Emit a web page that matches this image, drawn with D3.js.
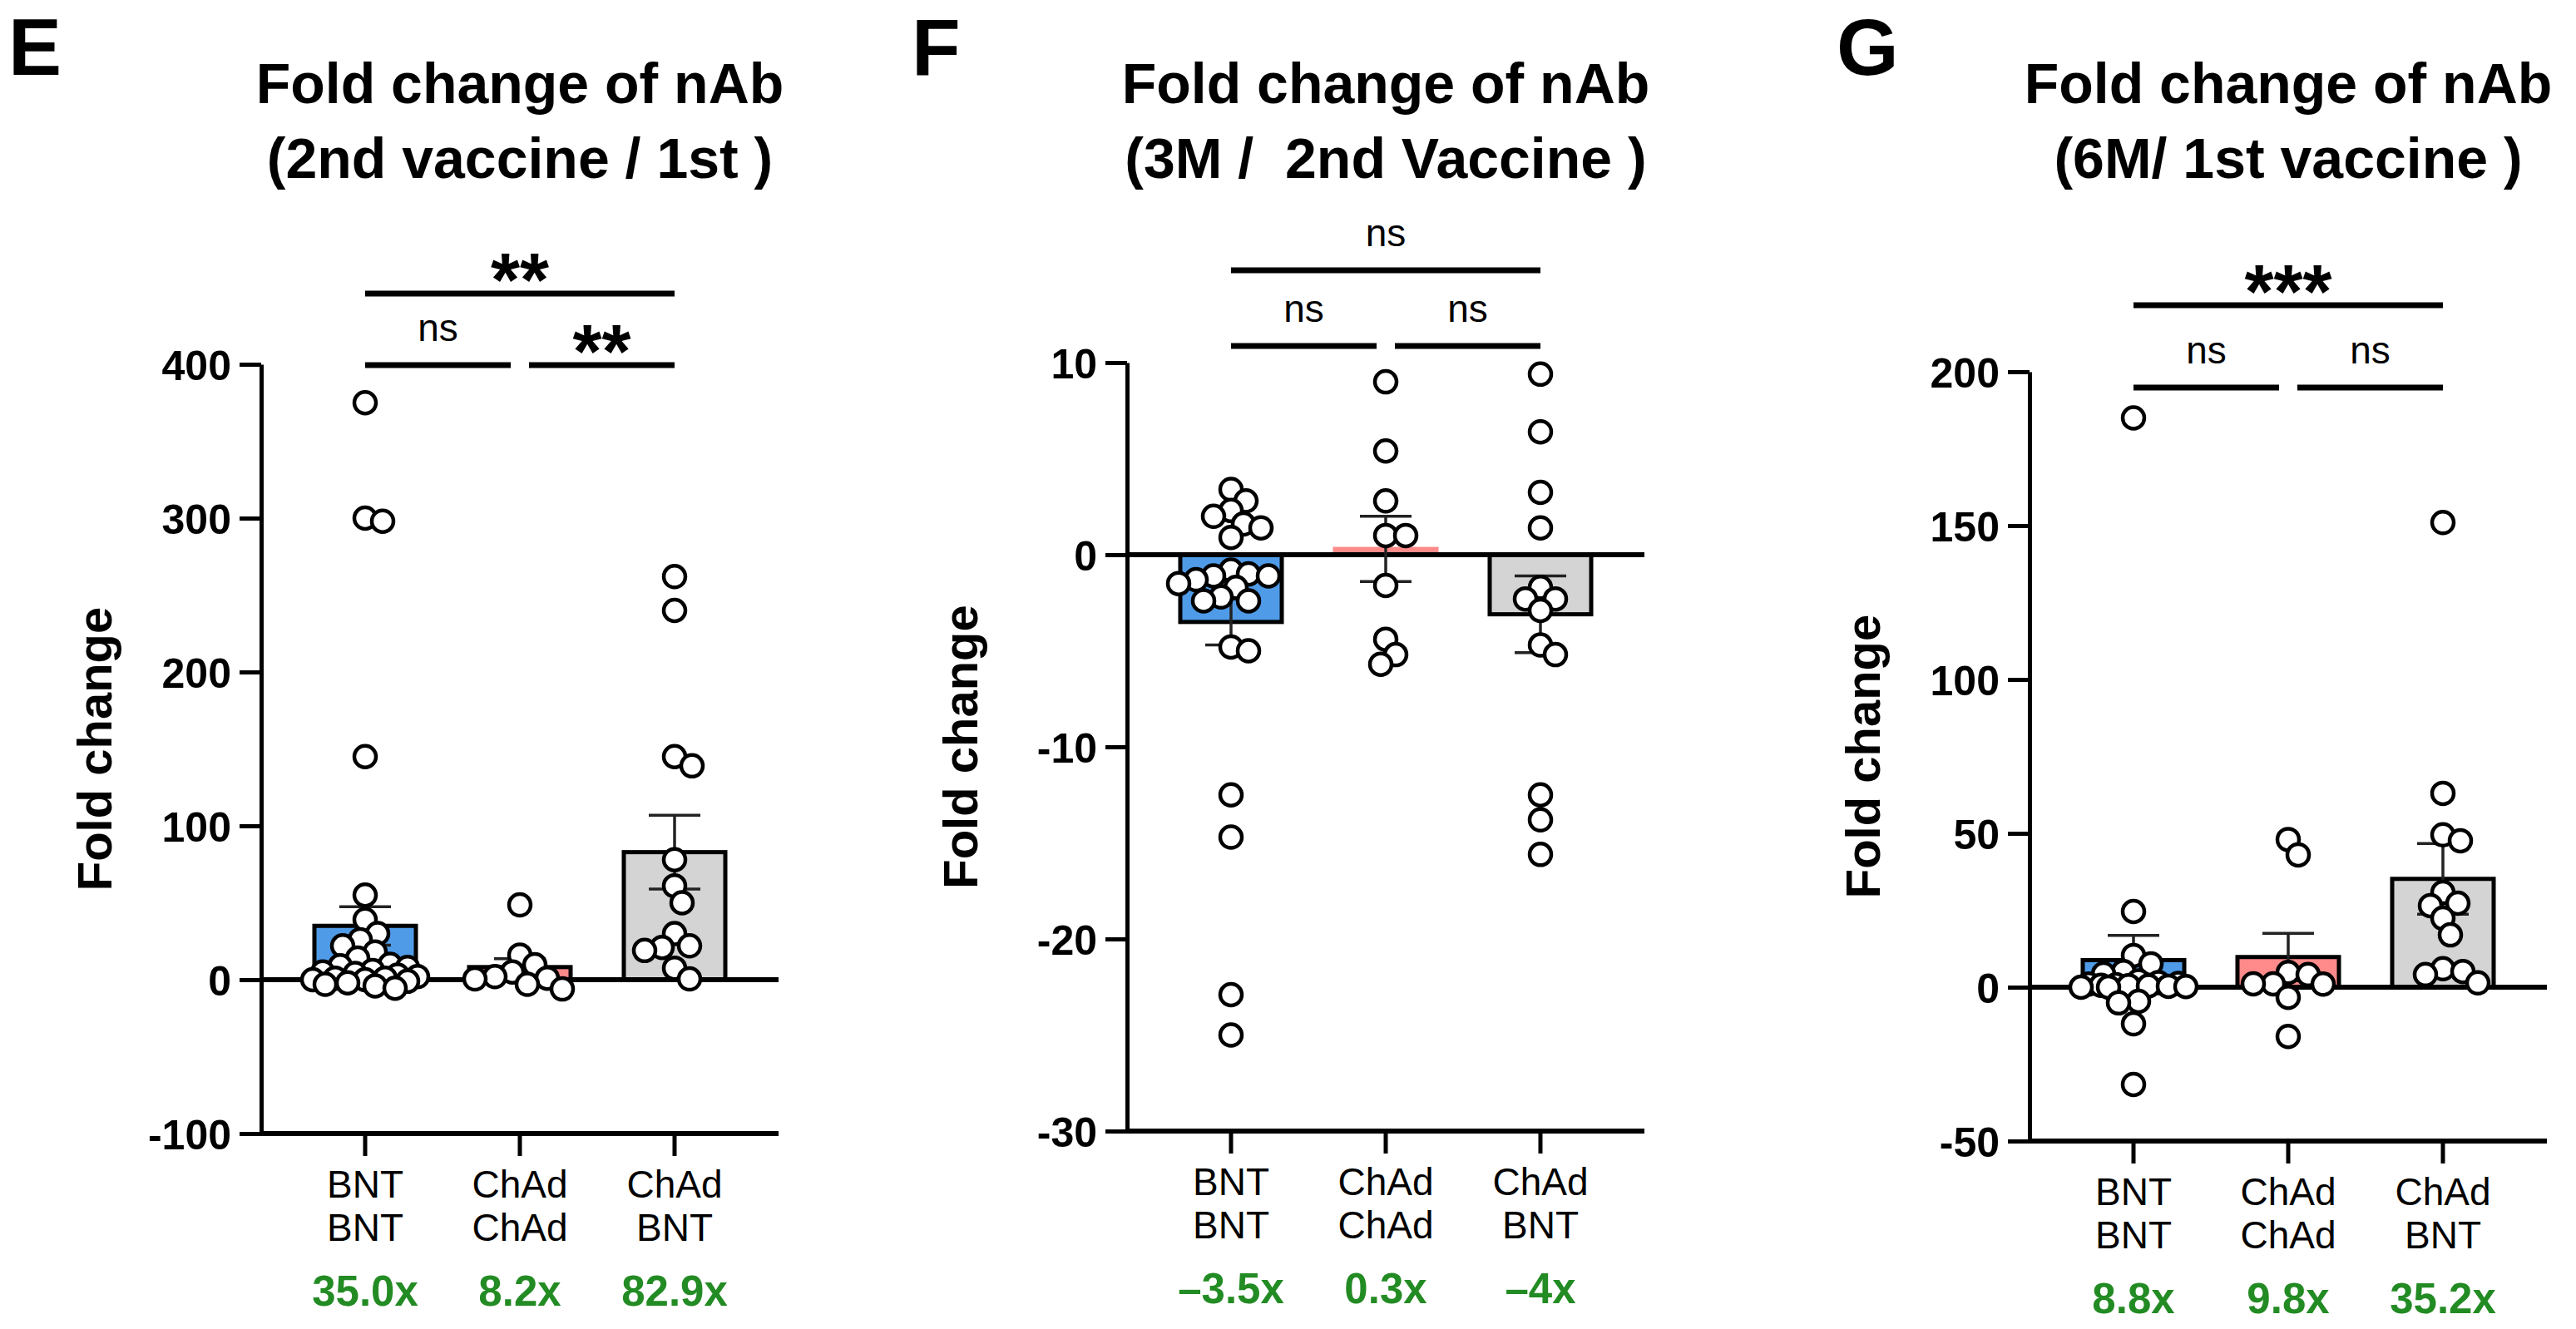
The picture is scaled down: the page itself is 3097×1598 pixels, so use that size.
<!DOCTYPE html>
<html>
<head>
<meta charset="utf-8">
<script src="https://cdn.jsdelivr.net/npm/d3@7"></script>
<style>
  body { margin: 0; background: #fff; }
  text { font-family: "Liberation Sans", Arial, Helvetica, sans-serif; }
</style>
</head>
<body>
<script>
const W = 3097, H = 1598;

// ---- data ----
const catTop = ["BNT", "ChAd", "ChAd"];
const catBottom = ["BNT", "ChAd", "BNT"];
const barColors = ["#4f9be8", "#ff8a8a", "#d4d4d4"];

const letters = ["E", "F", "G"];
const titleLine1 = ["Fold change of nAb", "Fold change of nAb", "Fold change of nAb"];
const titleLine2 = ["(2nd vaccine / 1st )", "(3M /  2nd Vaccine )", "(6M/ 1st vaccine )"];

const ticksE = [-100, 0, 100, 200, 300, 400];
const ticksF = [-30, -20, -10, 0, 10];
const ticksG = [-50, 0, 50, 100, 150, 200];

const meansE = [35.0, 8.2, 82.9];
const semE = [12.5, 5.5, 24];
const meansF = [-3.5, 0.3, -3.1];
const semF = [1.2, 1.7, 2.0];
const meansG = [8.8, 9.8, 35.2];
const semG = [8, 7.7, 11.5];

const pointsE = [
  [375, 300, 298, 145, 55, 39, 30, 26, 22, 18, 14, 10, 9, 8, 6, 5, 4, 3, 2, 1, 1, 0, 0, -1, -2, -3, -4, -5.5],
  [48.6, 16, 9.7, 5, 2, 1, 0.5, -3, -6],
  [262, 240, 145, 139, 78, 61, 50, 30, 22, 21, 19, 7.5, 0.5]
];
const pointsF = [
  [3.4, 2.8, 2.3, 2.0, 1.6, 1.4, 0.9, -0.8, -1.0, -1.1, -1.1, -1.3, -1.5, -1.7, -2.2, -2.4, -2.4, -4.8, -5.0, -12.5, -14.7, -22.9, -25.0],
  [9.0, 5.4, 2.8, 1.0, 1.0, -1.6, -4.4, -5.2, -5.7],
  [9.4, 6.4, 3.25, 1.4, -1.7, -2.3, -2.3, -2.9, -4.7, -5.2, -12.5, -13.8, -15.6]
];
const pointsG = [
  [185, 24.6, 10.3, 7.6, 5.1, 4.3, 2, 1.5, 1.2, 1, 0.8, 0.6, 0.5, 0.4, 0.3, 0.2, 0, 0, -4.6, -5.1, -11.9, -31.6],
  [48, 43, 4.8, 4.1, 1.1, 1.1, 1.0, -3.3, -16],
  [151, 63, 49.5, 47.6, 30.8, 27.3, 26.5, 22.4, 17, 6, 5.1, 4.1, 1.4]
];

// significance: [cat1 vs cat2, cat2 vs cat3, cat1 vs cat3]
const sigE = ["ns", "**", "**"];
const sigF = ["ns", "ns", "ns"];
const sigG = ["ns", "ns", "***"];

const foldE = ["35.0x", "8.2x", "82.9x"];
const foldF = ["\u20133.5x", "0.3x", "\u20134x"];
const foldG = ["8.8x", "9.8x", "35.2x"];

// ---- layout ----
const panels = [
  { ticks: ticksE, means: meansE, sem: semE, points: pointsE, sig: sigE, fold: foldE,
    axisX: 314, top: 438, bottom: 1363, letterX: 10, brLow: 1, brHigh: -85 },
  { ticks: ticksF, means: meansF, sem: semF, points: pointsF, sig: sigF, fold: foldF,
    axisX: 1355, top: 436, bottom: 1360, letterX: 1096, brLow: -20, brHigh: -111 },
  { ticks: ticksG, means: meansG, sem: semG, points: pointsG, sig: sigG, fold: foldG,
    axisX: 2440, top: 447, bottom: 1372, letterX: 2208, brLow: 19, brHigh: -80 }
];

const R = 13;

const svg = d3.select('body')
  .append('svg')
    .attr('width', W)
    .attr('height', H);
svg.append('rect').attr('width', W).attr('height', H).attr('fill', '#fff');

// simple deterministic swarm: nearest free horizontal slot for each point
function swarm(vals, cx, y, maxOff) {
  const placed = [];
  const D = 2 * R * 0.82;
  vals.forEach(v => {
    const py = y(v);
    let best = cx, bestScore = -1;
    for (let k = 0; k < 200; k++) {
      const off = (k % 2 ? 1 : -1) * Math.ceil(k / 2) * 3;
      if (Math.abs(off) > maxOff) break;
      const px = cx + off;
      let dmin = Infinity;
      placed.forEach(p => { dmin = Math.min(dmin, Math.hypot(p.x - px, p.y - py)); });
      if (dmin >= D) { best = px; break; }
      if (dmin > bestScore) { bestScore = dmin; best = px; }
    }
    placed.push({ x: best, y: py, v: v });
  });
  return placed;
}

panels.forEach((p, pi) => {
  const g = svg.append('g');
  const ext = d3.extent(p.ticks);
  const y = d3.scaleLinear().domain(ext).range([p.bottom, p.top]);
  const x = d3.scaleBand()
    .domain(d3.range(3))
    .range([p.axisX + 32, p.axisX + 590])
    .paddingInner(0.344)
    .paddingOuter(0.172);
  const cx = i => x(i) + x.bandwidth() / 2;
  const xEnd = p.axisX + 622;

  // bars
  g.selectAll('rect.bar')
    .data(p.means)
    .enter()
      .append('rect')
        .attr('class', 'bar')
        .attr('x', (d, i) => x(i))
        .attr('width', x.bandwidth())
        .attr('y', d => Math.min(y(d), y(0)))
        .attr('height', d => Math.abs(y(d) - y(0)))
        .attr('fill', (d, i) => barColors[i])
        .attr('stroke', (d, i) => Math.abs(y(d) - y(0)) < 10 ? barColors[i] : '#000')
        .attr('stroke-width', 5);

  // zero line
  g.append('line')
    .attr('x1', p.axisX).attr('x2', xEnd)
    .attr('y1', y(0)).attr('y2', y(0))
    .attr('stroke', '#000').attr('stroke-width', 6);

  // y axis
  const ya = g.append('g')
    .attr('transform', `translate(${p.axisX},0)`)
    .call(d3.axisLeft(y).tickValues(p.ticks).tickSize(26).tickSizeOuter(0).tickPadding(10).tickFormat(d3.format('d')));
  ya.select('.domain').attr('stroke-width', 5);
  ya.selectAll('.tick line').attr('stroke-width', 5);
  ya.selectAll('.tick text')
    .attr('font-size', 50).attr('font-weight', 'bold').attr('fill', '#000')
    .attr('font-family', '"Liberation Sans", Arial, sans-serif')
    .attr('dy', '0.36em')
    .text(d => d < 0 ? '-' + Math.abs(d) : d);

  // x axis
  const xa = g.append('g')
    .attr('transform', `translate(0,${p.bottom})`)
    .call(d3.axisBottom(x).tickSize(27).tickSizeOuter(0).tickFormat(''));
  xa.select('.domain').remove();
  xa.selectAll('.tick line').attr('stroke-width', 5);
  g.append('line')
    .attr('x1', p.axisX - 2).attr('x2', xEnd)
    .attr('y1', p.bottom).attr('y2', p.bottom)
    .attr('stroke', '#000').attr('stroke-width', 6);

  // category labels + fold labels
  [catTop, catBottom].forEach((arr, li) => {
    g.selectAll('text.cat' + li)
      .data(arr)
      .enter()
        .append('text')
          .attr('x', (d, i) => cx(i))
          .attr('y', p.bottom + 77 + li * 52)
          .attr('text-anchor', 'middle')
          .attr('font-size', 46)
          .text(d => d);
  });
  g.selectAll('text.fold')
    .data(p.fold)
    .enter()
      .append('text')
        .attr('x', (d, i) => cx(i))
        .attr('y', p.bottom + 207)
        .attr('text-anchor', 'middle')
        .attr('font-size', 51)
        .attr('font-weight', 'bold')
        .attr('fill', '#238b23')
        .text(d => d);

  // error bars (SEM)
  const eb = g.selectAll('g.err')
    .data(p.means)
    .enter()
      .append('g');
  eb.append('line')
    .attr('x1', (d, i) => cx(i)).attr('x2', (d, i) => cx(i))
    .attr('y1', (d, i) => y(d - p.sem[i])).attr('y2', (d, i) => y(d + p.sem[i]))
    .attr('stroke', '#222').attr('stroke-width', 3.5);
  [-1, 1].forEach(s => {
    eb.append('line')
      .attr('x1', (d, i) => cx(i) - 31).attr('x2', (d, i) => cx(i) + 31)
      .attr('y1', (d, i) => y(d + s * p.sem[i])).attr('y2', (d, i) => y(d + s * p.sem[i]))
      .attr('stroke', '#222').attr('stroke-width', 3.5);
  });

  // points
  p.points.forEach((vals, i) => {
    const pts = swarm(vals, cx(i), y, x.bandwidth() / 2 + 4);
    g.selectAll('circle.p' + i)
      .data(pts)
      .enter()
        .append('circle')
          .attr('cx', d => d.x)
          .attr('cy', d => d.y)
          .attr('r', R)
          .attr('fill', '#fff')
          .attr('stroke', '#000')
          .attr('stroke-width', 4.5);
  });

  // significance brackets
  const brackets = [
    { a: cx(0), b: cx(1) - 11, yy: p.top + p.brLow, t: p.sig[0] },
    { a: cx(1) + 11, b: cx(2), yy: p.top + p.brLow, t: p.sig[1] },
    { a: cx(0), b: cx(2), yy: p.top + p.brHigh, t: p.sig[2] }
  ];
  brackets.forEach(br => {
    g.append('line')
      .attr('x1', br.a).attr('x2', br.b)
      .attr('y1', br.yy).attr('y2', br.yy)
      .attr('stroke', '#000').attr('stroke-width', 7);
    const star = br.t !== 'ns';
    g.append('text')
      .attr('x', (br.a + br.b) / 2)
      .attr('y', star ? br.yy + 15 : br.yy - 29)
      .attr('text-anchor', 'middle')
      .attr('font-size', star ? 90 : 46)
      .attr('font-weight', star ? 'bold' : 'normal')
      .text(br.t);
  });

  // y title
  g.append('text')
    .attr('transform', `translate(${p.axisX - 180},${(p.top + p.bottom) / 2}) rotate(-90)`)
    .attr('text-anchor', 'middle')
    .attr('font-size', 58)
    .attr('font-weight', 'bold')
    .text('Fold change');

  // title
  g.append('text')
    .attr('x', cx(1)).attr('y', 124)
    .attr('text-anchor', 'middle')
    .attr('font-size', 68).attr('font-weight', 'bold')
    .text(titleLine1[pi]);
  g.append('text')
    .attr('x', cx(1)).attr('y', 214)
    .attr('text-anchor', 'middle')
    .attr('font-size', 68).attr('font-weight', 'bold')
    .style('white-space', 'pre')
    .text(titleLine2[pi]);

  // panel letter
  g.append('text')
    .attr('x', p.letterX).attr('y', 90)
    .attr('font-size', 96).attr('font-weight', 'bold')
    .text(letters[pi]);
});
</script>
</body>
</html>
